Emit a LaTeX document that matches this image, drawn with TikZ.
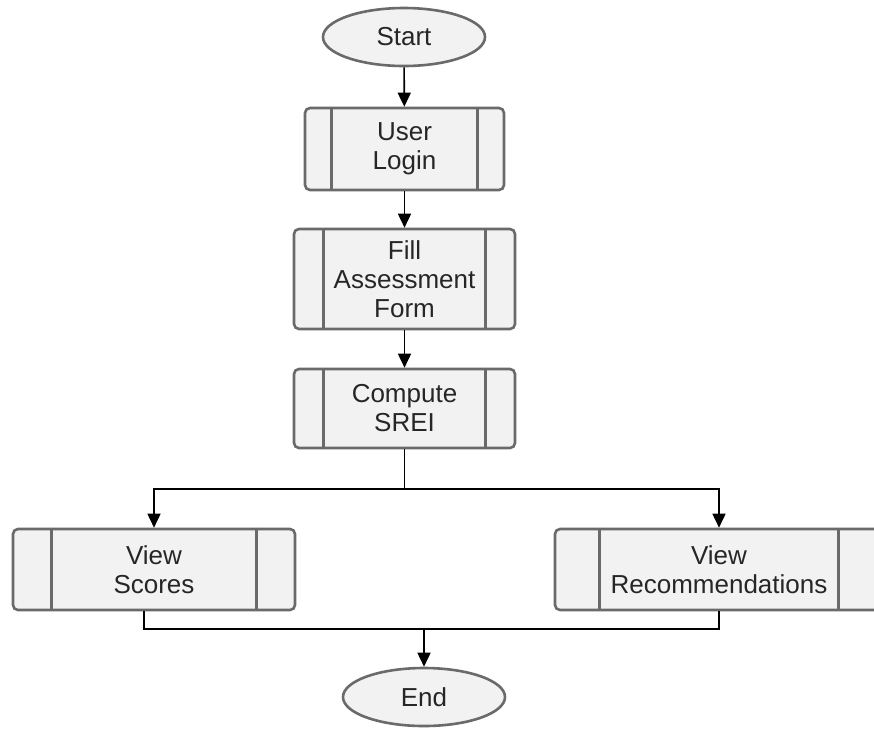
\documentclass[tikz,border=0pt]{standalone}
\usepackage{fontspec}
\setmainfont{Liberation Sans}
\usetikzlibrary{arrows.meta,calc,shapes.geometric}
\definecolor{boxfill}{HTML}{F2F2F2}
\definecolor{boxline}{HTML}{6A6A6A}
\begin{document}
\begin{tikzpicture}[x=1pt,y=-1pt,
  base/.style={draw=boxline, line width=2.6pt, fill=boxfill, text=black!85,
    font=\fontsize{26}{29}\selectfont, align=center, inner sep=0pt},
  term/.style={base, ellipse, minimum width=162pt, minimum height=58pt},
  proc/.style={base, rectangle, rounded corners=5pt},
  inner/.style={draw=boxline, line width=2.6pt},
  conn/.style={draw=black, line width=1.6pt},
  arr/.style={conn, -{Triangle[length=14pt,width=13pt]}}]
\useasboundingbox (0,0) rectangle (874,729);
\clip (0,0) rectangle (874,729);
\fill[white] (0,0) rectangle (874,729);

\node[term] (start) at (404,37) {Start};
\node[proc, minimum width=199pt, minimum height=82pt] (login) at (404.5,149) {User\\Login};
\node[proc, minimum width=221pt, minimum height=100pt] (fill) at (404.5,279) {Fill\\Assessment\\Form};
\node[proc, minimum width=221pt, minimum height=79pt] (srei) at (404.5,408.5) {Compute\\SREI};
\node[proc, minimum width=282pt, minimum height=81pt] (scores) at (154,569.5) {View\\Scores};
\node[proc, minimum width=328pt, minimum height=81pt] (recs) at (719,569.5) {View\\Recommendations};
\node[term] (end) at (424,697) {End};

% inner vertical lines of the predefined-process boxes
\foreach \n/\d in {login/28, fill/31, srei/31, scores/40, recs/46} {
  \draw[inner] ($(\n.north west)+(\d,0)$) -- ($(\n.south west)+(\d,0)$);
  \draw[inner] ($(\n.north east)+(-\d,0)$) -- ($(\n.south east)+(-\d,0)$);
}

\coordinate (split) at (404.5,489);
\coordinate (merge) at (424,629);

\draw[arr] (start) -- (login);
\draw[arr] (login) -- (fill);
\draw[arr] (fill) -- (srei);
\draw[conn] (srei.south) -- (split);
\draw[arr] (split) -| (scores.north);
\draw[arr] (split) -| (recs.north);
\draw[conn] ($(scores.south)+(-10,0)$) |- (merge);
\draw[conn] (recs.south) |- (merge);
\draw[arr] (merge) -- (end);
\end{tikzpicture}
\end{document}
